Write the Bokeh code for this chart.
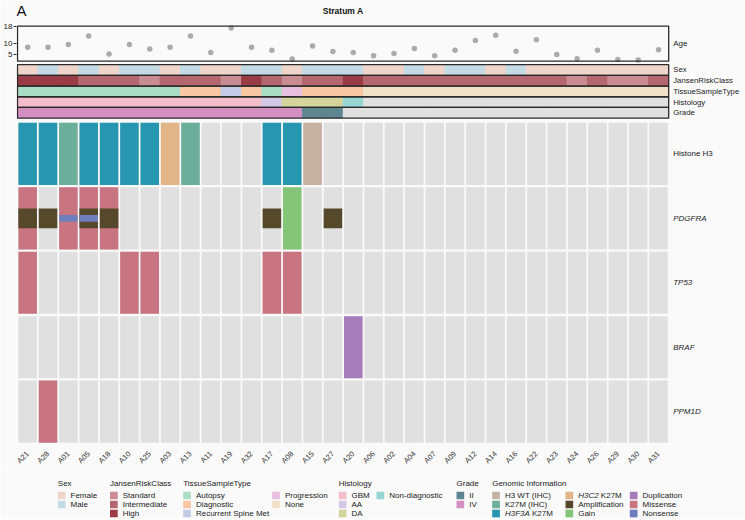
import math
from bokeh.plotting import figure
from bokeh.models import Range1d, LinearAxis, FixedTicker, ColumnDataSource
from bokeh.layouts import column
from bokeh.embed import file_html
from bokeh.resources import INLINE
from bokeh.core.properties import value

# ---------------- data ----------------
SAMPLES = ["A21", "A28", "A01", "A05", "A18", "A10", "A25", "A03", "A13", "A11", "A19", "A32",
           "A17", "A08", "A15", "A27", "A20", "A06", "A02", "A04", "A07", "A09", "A12", "A14",
           "A16", "A22", "A23", "A24", "A26", "A29", "A30", "A31"]
AGE = [8.2, 8.2, 9.5, 13.4, 5.1, 9.5, 7.4, 8.2, 13.5, 5.8, 17.2, 8.2, 6.9, 2.8, 8.8, 6.3,
       5.8, 4.3, 5.4, 7.7, 4.3, 6.8, 11.4, 13.8, 6.4, 11.7, 4.9, 2.9, 6.8, 2.6, 2.3, 7.1]
AGE_TICKS = [5, 10, 18]

SEX = ["Female", "Male", "Female", "Male", "Female", "Male", "Male", "Female", "Male", "Female",
       "Female", "Male", "Male", "Female", "Male", "Male", "Male", "Female", "Female", "Male",
       "Female", "Male", "Male", "Female", "Male", "Female", "Female", "Female", "Female",
       "Female", "Female", "Female"]
JANSEN = ["High", "High", "High", "Intermediate", "Intermediate", "Intermediate", "Standard",
          "Intermediate", "Intermediate", "Intermediate", "Standard", "High", "Intermediate",
          "Standard", "Intermediate", "Intermediate", "High", "Intermediate", "Intermediate",
          "Intermediate", "Intermediate", "Intermediate", "Intermediate", "Intermediate",
          "Intermediate", "Intermediate", "Intermediate", "Standard", "Intermediate",
          "Standard", "Standard", "Intermediate"]
TISSUE = ["Autopsy"] * 8 + ["Diagnostic", "Diagnostic", "Recurrent Spine Met", "Diagnostic",
                            "Autopsy", "Progression", "Diagnostic", "Diagnostic", "Diagnostic"] + ["None"] * 15
HISTOLOGY = ["GBM"] * 12 + ["AA", "DA", "DA", "DA", "Non-diagnostic"] + [None] * 15
GRADE = ["IV"] * 14 + ["II", "II"] + [None] * 16

GENES = ["Histone H3", "PDGFRA", "TP53", "BRAF", "PPM1D"]
GENE_ITALIC = [False, True, True, True, True]
E = ""
ALTERATIONS = {
    "Histone H3": ["H3F3A K27M", "H3F3A K27M", "K27M (IHC)", "H3F3A K27M", "H3F3A K27M",
                   "H3F3A K27M", "H3F3A K27M", "H3C2 K27M", "K27M (IHC)", E, E, E,
                   "H3F3A K27M", "H3F3A K27M", "H3 WT (IHC)", E, E, E, E, E, E, E, E, E,
                   E, E, E, E, E, E, E, E],
    "PDGFRA": ["Missense;Amplification", "Amplification", "Missense;Nonsense",
               "Missense;Amplification;Nonsense", "Missense;Amplification", E, E, E, E, E, E, E,
               "Amplification", "Gain", E, "Amplification", E, E, E, E, E, E, E, E,
               E, E, E, E, E, E, E, E],
    "TP53": ["Missense", E, E, E, E, "Missense", "Missense", E, E, E, E, E, "Missense", "Missense",
             E, E, E, E, E, E, E, E, E, E, E, E, E, E, E, E, E, E],
    "BRAF": [E] * 16 + ["Duplication"] + [E] * 15,
    "PPM1D": [E, "Missense"] + [E] * 30,
}

LEGEND_GROUPS = [
    ("Sex", [["Female", "Male"]]),
    ("JansenRiskClass", [["Standard", "Intermediate", "High"]]),
    ("TissueSampleType", [["Autopsy", "Diagnostic", "Recurrent Spine Met"], ["Progression", "None"]]),
    ("Histology", [["GBM", "AA", "DA"], ["Non-diagnostic"]]),
    ("Grade", [["II", "IV"]]),
    ("Genomic Information", [["H3 WT (IHC)", "K27M (IHC)", "H3F3A K27M"],
                             ["H3C2 K27M", "Amplification", "Gain"],
                             ["Duplication", "Missense", "Nonsense"]]),
]
ITALIC_PREFIX = {"H3F3A K27M": "H3F3A", "H3C2 K27M": "H3C2"}

# ---------------- styles ----------------
NA_COLOR = "#E0E0E0"
COLORS = {
    "Female": "#F0D5CA", "Male": "#C4DAE4",
    "Standard": "#C98C92", "Intermediate": "#B4676F", "High": "#9A3B45",
    "Autopsy": "#AADCC6", "Diagnostic": "#F7C6A2", "Recurrent Spine Met": "#C3CBE6",
    "Progression": "#E7BFDF", "None": "#F1E1C9",
    "GBM": "#F4BDCC", "AA": "#D3C8E6", "DA": "#D4D59D", "Non-diagnostic": "#96D7D3",
    "II": "#5E8590", "IV": "#D38FC2",
    "H3 WT (IHC)": "#C6B2A2", "K27M (IHC)": "#6BAE99", "H3F3A K27M": "#2797B1",
    "H3C2 K27M": "#E2B588", "Amplification": "#56482A", "Gain": "#84C579",
    "Duplication": "#A77CBB", "Missense": "#C87581", "Nonsense": "#6F7FBE",
}
FONT = "Liberation Sans"
BG = "#FAFAFA"
TXT = "#222222"
BORDER = "#2A2A2A"

# ---------------- layout ----------------
N = len(SAMPLES)
idx = list(range(N))
FIG_W = 745
LEFT_BORDER = 16
PITCH = 20.35
X0 = -0.5 - 1.0 / PITCH
X1 = X0 + (FIG_W - LEFT_BORDER) / PITCH
Y_TOP, Y_BOT = 0.0, 449.0
BOTTOM_BORDER = 22
MAIN_H = int(Y_BOT - Y_TOP) + BOTTOM_BORDER
LEG_H = 519 - MAIN_H

AGE_TOP_Y, AGE_BOT_Y = 26.0, 61.5
AGE_LO, AGE_HI = 1.8, 18.0
kpx = (AGE_BOT_Y - AGE_TOP_Y) / (AGE_HI - AGE_LO)
age_start = AGE_LO - (Y_BOT - AGE_BOT_Y) / kpx
age_end = AGE_HI + (AGE_TOP_Y - Y_TOP) / kpx

ANN_TOP, ANN_H = 65.0, 10.85
MAT_TOP, MAT_PITCH, MAT_H = 124.0, 65.3, 63.0
CELL_W = 1 - 1.8 / PITCH
LABEL_X = N - 0.5 + 4.5 / PITCH

p = figure(width=FIG_W, height=MAIN_H, x_range=Range1d(X0, X1), y_range=Range1d(Y_BOT, Y_TOP),
           output_backend="svg", toolbar_location=None, y_axis_location=None,
           min_border_left=LEFT_BORDER, min_border_right=0, min_border_top=0,
           min_border_bottom=BOTTOM_BORDER)
p.background_fill_color = BG
p.border_fill_color = BG
p.outline_line_color = None
p.grid.visible = False
p.extra_y_ranges = {"age": Range1d(age_start, age_end)}

# x axis with sample names
xa = p.xaxis[0]
xa.ticker = FixedTicker(ticks=idx)
xa.major_label_overrides = {i: s for i, s in enumerate(SAMPLES)}
xa.major_label_orientation = math.pi / 4
xa.axis_line_color = None
xa.major_tick_line_color = None
xa.minor_tick_line_color = None
xa.major_label_standoff = 3
xa.major_label_text_font_size = "7.5px"
xa.major_label_text_font = FONT
xa.major_label_text_color = "#333333"

# age axis
ax = LinearAxis(y_range_name="age", ticker=FixedTicker(ticks=AGE_TICKS), bounds=(AGE_LO, AGE_HI))
ax.axis_line_color = None
ax.major_tick_out = 3
ax.major_tick_in = 0
ax.major_tick_line_color = BORDER
ax.minor_tick_line_color = None
ax.major_label_standoff = 1
ax.axis_label_standoff = 0
ax.major_label_text_font_size = "8px"
ax.major_label_text_font = FONT
ax.major_label_text_color = TXT
p.add_layout(ax, "left")

# age dots
p.scatter(x=idx, y=AGE, y_range_name="age", size=5.5, color="#ABABAB", line_color=None)
p.rect(x=[(N - 1) / 2], y=[(AGE_TOP_Y + AGE_BOT_Y) / 2], width=N, height=AGE_BOT_Y - AGE_TOP_Y,
       fill_color=None, line_color=BORDER, line_width=1.3)

# annotation rows
ANN_ROWS = [("Sex", SEX), ("JansenRiskClass", JANSEN), ("TissueSampleType", TISSUE),
            ("Histology", HISTOLOGY), ("Grade", GRADE)]
ax_, ay_, ac_ = [], [], []
ann_centers = []
for r, (name, vals) in enumerate(ANN_ROWS):
    yc = ANN_TOP + (r + 0.5) * ANN_H
    ann_centers.append(yc)
    for i, v in enumerate(vals):
        ax_.append(i)
        ay_.append(yc)
        ac_.append(COLORS.get(v, NA_COLOR) if v else NA_COLOR)
p.rect(x="x", y="y", width=1.03, height=ANN_H, fill_color="c", line_color=None,
       source=ColumnDataSource(dict(x=ax_, y=ay_, c=ac_)))
p.rect(x=[(N - 1) / 2] * len(ANN_ROWS), y=ann_centers, width=N, height=ANN_H,
       fill_color=None, line_color=BORDER, line_width=1.3)

# oncoprint matrix
bg = dict(x=[], y=[])
full = dict(x=[], y=[], c=[])
amp = dict(x=[], y=[], c=[])
non = dict(x=[], y=[], c=[])
gene_centers = []
for g, gene in enumerate(GENES):
    yc = MAT_TOP + g * MAT_PITCH + MAT_H / 2
    gene_centers.append(yc)
    for i, entry in enumerate(ALTERATIONS[gene]):
        bg["x"].append(i)
        bg["y"].append(yc)
        for t in [s for s in entry.split(";") if s]:
            target = amp if t == "Amplification" else non if t == "Nonsense" else full
            target["x"].append(i)
            target["y"].append(yc)
            target["c"].append(COLORS[t])
p.rect(x="x", y="y", width=CELL_W, height=MAT_H, fill_color=NA_COLOR, line_color=None,
       source=ColumnDataSource(bg))
p.rect(x="x", y="y", width=CELL_W, height=MAT_H, fill_color="c", line_color=None,
       source=ColumnDataSource(full))
p.rect(x="x", y="y", width=CELL_W, height=MAT_H * 0.32, fill_color="c", line_color=None,
       source=ColumnDataSource(amp))
p.rect(x="x", y="y", width=CELL_W, height=MAT_H * 0.11, fill_color="c", line_color=None,
       source=ColumnDataSource(non))

# right-hand labels
p.text(x=[LABEL_X], y=[(AGE_TOP_Y + AGE_BOT_Y) / 2], text=["Age"], text_font=value(FONT),
       text_font_size=value("8px"), text_color=TXT, text_baseline="middle", text_align="left")
p.text(x=[LABEL_X] * len(ANN_ROWS), y=ann_centers, text=[n for n, _ in ANN_ROWS],
       text_font=value(FONT), text_font_size=value("7.8px"), text_color=TXT,
       text_baseline="middle", text_align="left")
p.text(x=[LABEL_X] * len(GENES), y=gene_centers, text=GENES,
       text_font=value(FONT), text_font_size=value("8px"), text_color=TXT,
       text_font_style=["italic" if it else "normal" for it in GENE_ITALIC],
       text_baseline="middle", text_align="left")

# titles
p.text(x=[(N - 1) / 2], y=[10.5], text=["Stratum A"], text_font=value(FONT),
       text_font_size=value("8.5px"), text_font_style=value("bold"), text_color="#111111",
       text_baseline="middle", text_align="center")
p.text(x=[X0], y=[2.0], text=["A"], text_font=value(FONT),
       text_font_size=value("15px"), text_color="#111111", text_baseline="top", text_align="left")

# ---------------- legend figure ----------------
lg = figure(width=FIG_W, height=LEG_H, x_range=Range1d(LEFT_BORDER, FIG_W),
            y_range=Range1d(LEG_H, 0), output_backend="svg", toolbar_location=None,
            x_axis_location=None, y_axis_location=None, min_border_left=LEFT_BORDER,
            min_border_right=0, min_border_top=0, min_border_bottom=0)
lg.background_fill_color = BG
lg.border_fill_color = BG
lg.outline_line_color = None
lg.grid.visible = False

LEG_COL_X = [[57.3], [109.5], [182.7, 271.7], [338.3, 376.0], [456.0], [491.7, 565.0, 629.3]]
SW = 7.7
LABEL_DX = 12.7
TITLE_Y = 11.5
ITEM_Y0, ITEM_DY = 24.0, 9.0
FS = 8.0
W_ARIAL = {"H": 0.722, "3": 0.556, "F": 0.611, "A": 0.667, "C": 0.722, "2": 0.556, " ": 0.278}

tx, ty, tt = [], [], []
sx, sy, sc = [], [], []
lx, ly, lt = [], [], []
ix, iy, it = [], [], []
for (title, cols), xs in zip(LEGEND_GROUPS, LEG_COL_X):
    tx.append(xs[0]); ty.append(TITLE_Y); tt.append(title)
    for items, x in zip(cols, xs):
        for j, item in enumerate(items):
            y = ITEM_Y0 + j * ITEM_DY
            sx.append(x + SW / 2); sy.append(y); sc.append(COLORS[item])
            if item in ITALIC_PREFIX:
                pre = ITALIC_PREFIX[item]
                ix.append(x + LABEL_DX); iy.append(y); it.append(pre)
                rest = item[len(pre):]
                w = sum(W_ARIAL.get(ch, 0.55) for ch in pre + " ") * FS
                lx.append(x + LABEL_DX + w); ly.append(y); lt.append(rest.strip())
            else:
                lx.append(x + LABEL_DX); ly.append(y); lt.append(item)

lg.text(x=tx, y=ty, text=tt, text_font=value(FONT), text_font_size=value("8px"),
        text_color=TXT, text_baseline="middle", text_align="left")
lg.rect(x=sx, y=sy, width=SW, height=SW, fill_color=sc, line_color=None)
lg.text(x=lx, y=ly, text=lt, text_font=value(FONT), text_font_size=value("8px"),
        text_color=TXT, text_baseline="middle", text_align="left")
lg.text(x=ix, y=iy, text=it, text_font=value(FONT), text_font_size=value("8px"),
        text_font_style=value("italic"), text_color=TXT, text_baseline="middle", text_align="left")

layout = column(p, lg)
open("out.html", "w").write(file_html(layout, INLINE))
